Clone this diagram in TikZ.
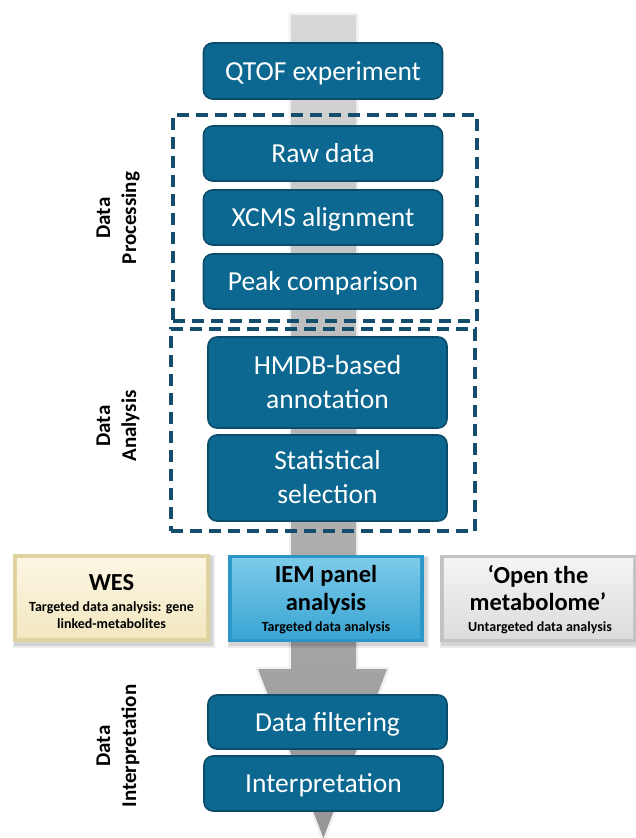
\documentclass[tikz,border=0pt]{standalone}
\usepackage{fontspec}
\setmainfont{Carlito}

\definecolor{boxblue}{HTML}{0C6890}
\definecolor{boxedge}{HTML}{0A4C6A}
\definecolor{dashcol}{HTML}{134F6C}
\definecolor{bandtop}{HTML}{D8D8D8}
\definecolor{bandbot}{HTML}{959595}
\definecolor{bandhalo}{HTML}{F1F1F1}
\definecolor{wesedge}{HTML}{E0D29E}
\definecolor{westop}{HTML}{FCF7E4}
\definecolor{wesbot}{HTML}{F2E7C0}
\definecolor{iemedge}{HTML}{2A97C8}
\definecolor{iemtop}{HTML}{7CCAE9}
\definecolor{iembot}{HTML}{3AA5D3}
\definecolor{openedge}{HTML}{C2C2C2}
\definecolor{opentop}{HTML}{F4F4F4}
\definecolor{openbot}{HTML}{DCDCDC}

% shadow, bevel edge and shaded face of a result card
\newcommand\cardface[4]{%
  \fill[black,opacity=0.08] ([shift={(0,1)}]#1.north west) rectangle ([shift={(5,6)}]#1.south east);
  \fill[black,opacity=0.10] ([shift={(1,2)}]#1.north west) rectangle ([shift={(3,4)}]#1.south east);
  \fill[#2] (#1.north west) rectangle (#1.south east);
  \shade[top color=#3, bottom color=#4] ([shift={(4,4)}]#1.north west) rectangle ([shift={(-4,-4)}]#1.south east);
}

\begin{document}
\begin{tikzpicture}[x=1pt,y=-1pt,
  stepbox/.style={rectangle, rounded corners=9pt, fill=boxblue, draw=boxedge,
    line width=1.6pt, text=white, align=center, inner sep=0pt,
    minimum width=239pt, font=\fontsize{27.5}{34}\selectfont,
    text height=18pt, text depth=0pt},
  twoline/.style={text height=52pt, text depth=1pt},
  groupbox/.style={rectangle, draw=dashcol, line width=3.2pt,
    dash pattern=on 12pt off 7pt, inner sep=0pt},
  sidelabel/.style={rotate=90, align=center, font=\fontsize{21}{26}\selectfont\bfseries},
  card/.style={rectangle, inner sep=0pt, minimum height=87pt},
  cardtitle/.style={anchor=base, font=\fontsize{24.5}{28}\selectfont\bfseries},
  cardsub/.style={anchor=base, font=\fontsize{14}{17}\selectfont\bfseries}]
\useasboundingbox (0,0) rectangle (635,838);

% central flow arrow
\draw[bandhalo, line width=5pt, line join=round]
  (291,15) -- (356,15) -- (356,669) -- (387,669) -- (323.5,838) -- (258,669) -- (291,669) -- cycle;
\shade[top color=bandtop, bottom color=bandbot]
  (291,15) -- (356,15) -- (356,669) -- (387,669) -- (323.5,838) -- (258,669) -- (291,669) -- cycle;

% group frames
\node[groupbox, minimum width=304pt, minimum height=206pt] (procframe) at (325,218) {};
\node[groupbox, minimum width=304pt, minimum height=202pt] (anaframe) at (323,430) {};

% workflow steps
\node[stepbox, minimum height=56pt] (qtof) at (323,71) {QTOF experiment};
\node[stepbox, minimum height=55pt] (raw) at (323,153.5) {Raw data};
\node[stepbox, minimum height=55pt] (xcms) at (323,217.5) {XCMS alignment};
\node[stepbox, minimum height=55pt] (peak) at (323,281.5) {Peak comparison};
\node[stepbox, twoline, minimum height=91pt] (hmdb) at (327.5,382.5) {HMDB-based\\annotation};
\node[stepbox, twoline, minimum height=86pt] (stat) at (327.5,478) {Statistical\\selection};
\node[stepbox, minimum height=54pt] (filter) at (327.5,722) {Data filtering};
\node[stepbox, minimum height=55pt] (interp) at (323.5,783.5) {Interpretation};

% phase labels
\node[sidelabel] (lproc) at (118,218) {Data\\Processing};
\node[sidelabel] (lana) at (118,426) {Data\\Analysis};
\node[sidelabel] (linterp) at (118,746) {Data\\Interpretation};

% analysis routes
\node[card, minimum width=197pt] (wes) at (111.5,598) {};
\cardface{wes}{wesedge}{westop}{wesbot}
\node[cardtitle] (wes-t) at (111.5,590) {WES};
\node[cardsub] (wes-s1) at (111.5,611.5) {Targeted data analysis: gene};
\node[cardsub] (wes-s2) at (111.5,628) {linked-metabolites};

\node[card, minimum width=196pt] (iem) at (326,598.5) {};
\cardface{iem}{iemedge}{iemtop}{iembot}
\node[cardtitle] (iem-t1) at (326,582) {IEM panel};
\node[cardtitle] (iem-t2) at (326,610) {analysis};
\node[cardsub] (iem-s) at (326,631) {Targeted data analysis};

\node[card, minimum width=197pt] (open) at (538.5,598.5) {};
\cardface{open}{openedge}{opentop}{openbot}
\node[cardtitle] (open-t1) at (538,583) {‘Open the};
\node[cardtitle] (open-t2) at (538,610) {metabolome’};
\node[cardsub] (open-s) at (540,631) {Untargeted data analysis};
\end{tikzpicture}
\end{document}
